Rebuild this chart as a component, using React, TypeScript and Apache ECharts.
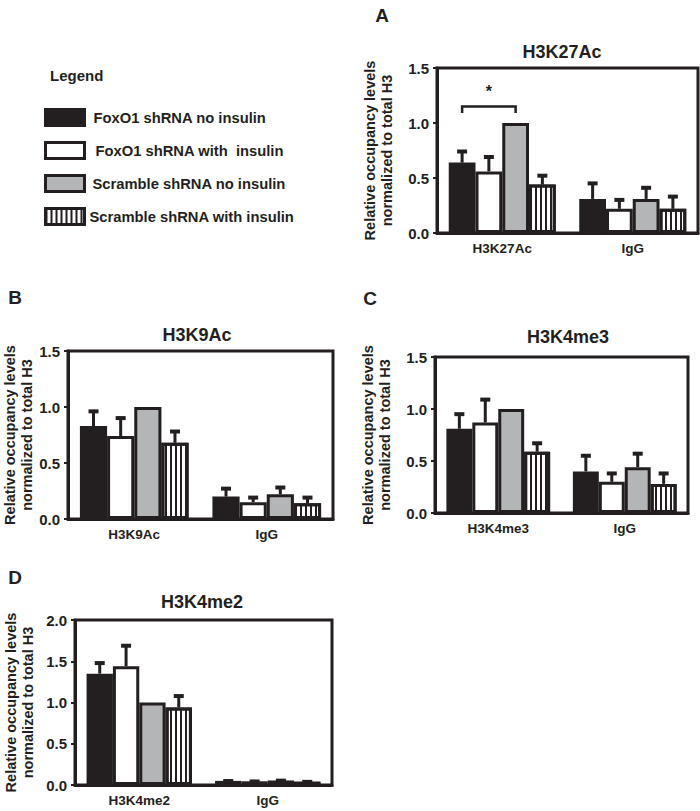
import React, { useEffect, useRef } from "react";
import * as echarts from "echarts";

// ---------- data ----------
const SERIES_NAMES = [
  "FoxO1 shRNA no insulin",
  "FoxO1 shRNA with  insulin",
  "Scramble shRNA no insulin",
  "Scramble shRNA with insulin",
];

const TITLES = ["H3K27Ac", "H3K9Ac", "H3K4me3", "H3K4me2"];
const LETTERS = ["A", "B", "C", "D"];

const CATS_A = ["H3K27Ac", "IgG"];
const CATS_B = ["H3K9Ac", "IgG"];
const CATS_C = ["H3K4me3", "IgG"];
const CATS_D = ["H3K4me2", "IgG"];

// means per series: [FoxO1 no ins, FoxO1 ins, Scramble no ins, Scramble ins]
const MEAN_A = [[0.64, 0.31], [0.56, 0.22], [1.0, 0.31], [0.44, 0.22]];
const ERR_A = [[0.11, 0.15], [0.14, 0.09], [0, 0.11], [0.09, 0.12]];

const MEAN_B = [[0.83, 0.2], [0.74, 0.15], [1.0, 0.22], [0.68, 0.14]];
const ERR_B = [[0.14, 0.08], [0.17, 0.05], [0, 0.07], [0.11, 0.06]];

const MEAN_C = [[0.81, 0.4], [0.87, 0.3], [1.0, 0.44], [0.59, 0.28]];
const ERR_C = [[0.15, 0.16], [0.23, 0.09], [0, 0.14], [0.09, 0.11]];

const MEAN_D = [[1.35, 0.05], [1.44, 0.045], [1.0, 0.055], [0.94, 0.04]];
const ERR_D = [[0.14, 0.01], [0.26, 0.01], [0, 0.01], [0.15, 0.01]];

const Y_MAX = [1.5, 1.5, 1.5, 2.0];
const Y_INTERVAL = [0.5, 0.5, 0.5, 0.5];

// significance bracket in panel A: [category, fromSeries, toSeries, lineY, tickBottomY, starY]
const SIG_A = [[0, 0, 2, 1.15, 1.09, 1.29]];

const Y_NAME = "Relative occupancy levels\nnormalized to total H3";

// ---------- layout / style ----------
const FONT = '"Liberation Sans", Arial, Helvetica, sans-serif';
const INK = "#231f20";
const FILLS = [INK, "#ffffff", "#b4b5b7", "#ffffff"];
const CAT_GAP = 0.18;

const GRIDS = [
  { left: 437, top: 68, width: 261, height: 165 },
  { left: 68, top: 351, width: 265, height: 168 },
  { left: 435, top: 357, width: 253, height: 156 },
  { left: 75, top: 620, width: 257, height: 165 },
];
const NAME_GAPS = [42, 32, 42, 39];
const TITLE_POS = [
  [562, 52],
  [197, 335],
  [568, 337],
  [202, 602],
];
const LETTER_POS = [
  [382, 15],
  [15, 297],
  [370, 298],
  [15, 577],
];
const LEGEND_TEXT_PAD = [4, 6, 3, 0];

const STRIPE_DECAL = {
  symbol: "rect",
  symbolSize: 1,
  color: INK,
  backgroundColor: "#ffffff",
  dashArrayX: [2, 3],
  dashArrayY: [4, 0],
  rotation: 0,
};

function barCenter(api: any, cat: number, s: number, v: number) {
  const band = api.size([1, 0])[0];
  const groupW = band * (1 - CAT_GAP);
  const bw = groupW / 4;
  const c = api.coord([cat, v]);
  return [c[0] - groupW / 2 + bw * (s + 0.5), c[1]];
}

export default function App() {
  const ref = useRef<HTMLDivElement>(null);

  useEffect(() => {
    if (!ref.current) return;
    const chart = echarts.init(ref.current, null, { renderer: "svg" });

    const cats = [CATS_A, CATS_B, CATS_C, CATS_D];
    const means = [MEAN_A, MEAN_B, MEAN_C, MEAN_D];
    const errs = [ERR_A, ERR_B, ERR_C, ERR_D];

    const series: any[] = [];
    for (let p = 0; p < 4; p++) {
      for (let s = 0; s < 4; s++) {
        series.push({
          type: "bar",
          name: SERIES_NAMES[s],
          xAxisIndex: p,
          yAxisIndex: p,
          data: means[p][s],
          barGap: "0%",
          barCategoryGap: CAT_GAP * 100 + "%",
          itemStyle: {
            color: FILLS[s],
            borderColor: INK,
            borderWidth: 3,
            decal: s === 3 ? STRIPE_DECAL : undefined,
          },
          emphasis: { disabled: true },
          z: 2,
        });
      }
      const errData: any[] = [];
      for (let s = 0; s < 4; s++) {
        for (let c = 0; c < cats[p].length; c++) {
          if (errs[p][s][c] > 0) errData.push([c, means[p][s][c], errs[p][s][c], s]);
        }
      }
      series.push({
        type: "custom",
        xAxisIndex: p,
        yAxisIndex: p,
        data: errData,
        encode: { x: 0, y: 1 },
        z: 5,
        silent: true,
        renderItem: (params: any, api: any) => {
          const cat = api.value(0);
          const v = api.value(1);
          const e = api.value(2);
          const s = api.value(3);
          const [x, y0] = barCenter(api, cat, s, v);
          const y1 = api.coord([cat, v + e])[1];
          return {
            type: "group",
            children: [
              {
                type: "line",
                shape: { x1: x, y1: y0, x2: x, y2: y1 },
                style: { stroke: INK, lineWidth: 3 },
              },
              {
                type: "line",
                shape: { x1: x - 5, y1: y1 + 1, x2: x + 5, y2: y1 + 1 },
                style: { stroke: INK, lineWidth: 4 },
              },
            ],
          };
        },
      });
    }

    series.push({
      type: "custom",
      xAxisIndex: 0,
      yAxisIndex: 0,
      data: SIG_A,
      encode: { x: 0, y: 3 },
      z: 6,
      silent: true,
      renderItem: (params: any, api: any) => {
        const cat = api.value(0);
        const a = api.value(1);
        const b = api.value(2);
        const yl = api.value(3);
        const yt = api.value(4);
        const ys = api.value(5);
        const [x1, yLine] = barCenter(api, cat, a, yl);
        const [x2] = barCenter(api, cat, b, yl);
        const yTick = api.coord([cat, yt])[1];
        const yStar = api.coord([cat, ys])[1];
        return {
          type: "group",
          children: [
            {
              type: "polyline",
              shape: {
                points: [
                  [x1, yTick],
                  [x1, yLine],
                  [x2, yLine],
                  [x2, yTick],
                ],
              },
              style: { stroke: INK, lineWidth: 2.5, fill: "none" },
            },
            {
              type: "text",
              x: (x1 + x2) / 2,
              y: yStar,
              style: {
                text: "*",
                fill: INK,
                font: "bold 16px " + FONT,
                textAlign: "center",
                textVerticalAlign: "middle",
              },
            },
          ],
        };
      },
    });

    const graphic: any[] = [
      {
        type: "text",
        x: 50,
        y: 75,
        style: {
          text: "Legend",
          fill: INK,
          font: "bold 15px " + FONT,
          textVerticalAlign: "middle",
        },
      },
    ];
    for (let p = 0; p < 4; p++) {
      graphic.push({
        type: "text",
        x: TITLE_POS[p][0],
        y: TITLE_POS[p][1],
        style: {
          text: TITLES[p],
          fill: INK,
          font: "bold 18px " + FONT,
          textAlign: "center",
          textVerticalAlign: "middle",
        },
      });
      graphic.push({
        type: "text",
        x: LETTER_POS[p][0],
        y: LETTER_POS[p][1],
        style: {
          text: LETTERS[p],
          fill: INK,
          font: "bold 19px " + FONT,
          textAlign: "center",
          textVerticalAlign: "middle",
        },
      });
    }

    const option: any = {
      animation: false,
      backgroundColor: "#ffffff",
      textStyle: { fontFamily: FONT },
      grid: GRIDS.map((g) => ({
        ...g,
        show: true,
        borderColor: INK,
        borderWidth: 3,
        backgroundColor: "transparent",
        containLabel: false,
      })),
      xAxis: cats.map((c, p) => ({
        type: "category",
        gridIndex: p,
        data: c,
        axisLine: { lineStyle: { color: INK, width: 3 } },
        axisTick: { show: false },
        axisLabel: {
          color: INK,
          fontWeight: "bold",
          fontSize: 13.5,
          fontFamily: FONT,
          margin: 8,
        },
      })),
      yAxis: Y_MAX.map((m, p) => ({
        type: "value",
        gridIndex: p,
        min: 0,
        max: m,
        interval: Y_INTERVAL[p],
        name: Y_NAME,
        nameLocation: "middle",
        nameGap: NAME_GAPS[p],
        nameTextStyle: {
          color: INK,
          fontWeight: "bold",
          fontSize: 14.5,
          fontFamily: FONT,
          lineHeight: 17,
        },
        splitLine: { show: false },
        axisLine: { show: true, lineStyle: { color: INK, width: 3 } },
        axisTick: { show: true, length: 4, lineStyle: { color: INK, width: 2 } },
        axisLabel: {
          color: INK,
          fontWeight: "bold",
          fontSize: 15,
          fontFamily: FONT,
          margin: 8,
          formatter: (v: number) => v.toFixed(1),
        },
      })),
      legend: {
        data: SERIES_NAMES.map((n, i) => ({
          name: n,
          textStyle: { padding: [0, 0, 0, LEGEND_TEXT_PAD[i]] },
        })),
        orient: "vertical",
        left: 44,
        top: 108,
        padding: 0,
        itemWidth: 39,
        itemHeight: 16,
        itemGap: 14,
        icon: "rect",
        selectedMode: false,
        itemStyle: { borderColor: INK, borderWidth: 3 },
        textStyle: {
          color: INK,
          fontWeight: "bold",
          fontSize: 14.75,
          lineHeight: 16,
          fontFamily: FONT,
        },
      },
      graphic,
      series,
    };

    chart.setOption(option);
    return () => chart.dispose();
  }, []);

  return (
    <div
      ref={ref}
      style={{ position: "absolute", left: 0, top: 0, width: 700, height: 811 }}
    />
  );
}
